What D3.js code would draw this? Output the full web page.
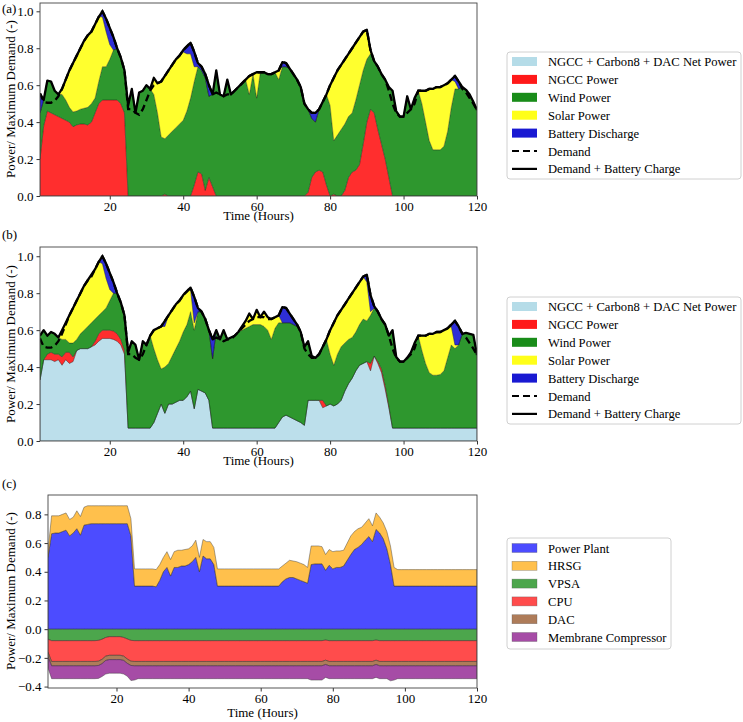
<!DOCTYPE html>
<html><head><meta charset="utf-8">
<script src="https://cdn.jsdelivr.net/npm/d3@7"></script>
<style>
body{margin:0;background:#fff}
svg{display:block}
text{font-family:"Liberation Serif","Times New Roman",serif;fill:#000}
</style>
</head><body>
<svg id="chart" width="743" height="722"></svg>
<script>
// ---------- DATA ----------
const hours = d3.range(1, 121);
const xTickValues = [20, 40, 60, 80, 100, 120];
const yTicksAB = [0, 0.2, 0.4, 0.6, 0.8, 1.0];
const yTicksC = [-0.4, -0.2, 0, 0.2, 0.4, 0.6, 0.8];

const demand = [
.555,.51,.505,.505,.515,.54,.58,.63,.68,.72,
.76,.80,.84,.87,.89,.93,.97,1.0,.96,.91,
.86,.80,.75,.68,.47,.47,.45,.44,.47,.52,
.57,.60,.61,.62,.65,.68,.71,.74,.76,.79,
.81,.83,.78,.72,.70,.66,.60,.55,.56,.55,
.54,.55,.55,.57,.59,.61,.63,.65,.66,.67,
.67,.67,.66,.66,.67,.68,.725,.72,.69,.66,
.63,.59,.50,.47,.45,.45,.47,.51,.55,.60,
.64,.68,.71,.74,.77,.80,.83,.86,.89,.90,
.79,.73,.70,.66,.63,.57,.50,.45,.43,.43,
.45,.47,.50,.57,.57,.57,.58,.58,.59,.59,
.60,.61,.63,.65,.62,.58,.56,.53,.50,.465];

// Panel (a)
const chargeA = [
.555,.52,.625,.62,.57,.55,.58,.63,.68,.72,
.76,.80,.84,.87,.89,.93,.97,1.0,.96,.91,
.86,.80,.75,.68,.49,.58,.45,.56,.57,.60,
.58,.64,.61,.62,.65,.68,.71,.74,.76,.79,
.81,.83,.78,.72,.70,.66,.60,.55,.68,.55,
.54,.63,.55,.57,.59,.61,.63,.65,.66,.67,
.67,.67,.66,.66,.67,.68,.725,.72,.69,.66,
.63,.59,.50,.47,.45,.45,.47,.51,.55,.60,
.64,.68,.71,.74,.77,.80,.83,.86,.89,.90,
.79,.73,.70,.66,.63,.59,.57,.46,.43,.43,
.54,.47,.53,.57,.57,.57,.58,.58,.59,.59,
.60,.61,.63,.65,.62,.59,.575,.55,.51,.465];
const ngccA = [
.20,.38,.46,.45,.44,.43,.42,.41,.40,.375,
.385,.39,.39,.385,.40,.45,.50,.52,.52,.52,
.52,.52,.50,.45,0,0,0,0,0,0,
0,0,0,0,.01,0,0,0,0,0,
0,0,.06,.13,.12,.03,.10,.05,0,0,
0,0,0,0,0,0,0,0,0,0,
0,0,0,0,0,0,0,0,0,0,
0,0,0,.02,.10,.13,.14,.13,.06,0,
.01,0,0,.03,.10,.13,.14,.17,.28,.40,
.47,.45,.36,.28,.20,.10,0,0,0,0,
0,0,0,0,0,0,0,0,0,0,
0,0,0,0,0,0,0,0,0,0];
const windA = [
.25,.14,.165,.17,.13,.12,.13,.11,.08,.08,
.075,.08,.085,.095,.10,.08,.12,.18,.18,.22,
.27,.28,.25,.23,.49,.58,.45,.56,.57,.60,
.58,.55,.45,.32,.30,.33,.35,.37,.39,.41,
.46,.53,.56,.57,.56,.61,.44,.50,.68,.55,
.54,.63,.55,.57,.59,.61,.63,.55,.66,.53,
.67,.67,.66,.66,.67,.63,.70,.70,.69,.66,
.63,.59,.50,.45,.32,.27,.33,.38,.49,.49,
.29,.33,.36,.36,.33,.32,.38,.43,.40,.34,
.30,.28,.34,.38,.43,.49,.57,.46,.43,.43,
.54,.47,.53,.57,.50,.40,.30,.25,.25,.25,
.27,.35,.48,.58,.58,.59,.575,.55,.51,.465];
const solarA = [
0,0,0,0,0,0,.03,.11,.20,.265,
.30,.33,.365,.39,.39,.40,.35,.27,.19,.08,
0,0,0,0,0,0,0,0,0,0,
0,.09,.16,.30,.34,.35,.36,.37,.37,.37,
.31,.24,.08,0,0,0,0,0,0,0,
0,0,0,0,0,0,0,.10,0,.14,
0,0,0,0,0,.05,0,0,0,0,
0,0,0,0,0,0,0,0,0,.11,
.34,.35,.35,.35,.34,.35,.31,.26,.21,.16,
.02,0,0,0,0,0,0,0,0,0,
0,0,0,0,.07,.17,.28,.33,.34,.34,
.33,.26,.15,.04,0,0,0,0,0,0];
const batteryA = [
.105,0,0,0,0,0,0,0,0,0,
0,0,0,0,0,0,0,.03,.07,.09,
.07,0,0,0,0,0,0,0,0,0,
0,0,0,0,0,0,0,0,0,.01,
.04,.06,.08,.02,.02,.02,.06,0,0,0,
0,0,0,0,0,0,0,0,0,0,
0,0,0,0,0,0,.025,.02,0,0,
0,0,0,0,.03,.05,0,0,0,0,
0,0,0,0,0,0,0,0,0,0,
0,0,0,0,0,0,0,0,0,0,
0,0,0,0,0,0,0,0,0,0,
0,0,0,.03,.04,0,0,0,0,0];

// Panel (b)
const chargeB = [
.57,.60,.57,.59,.58,.56,.60,.64,.68,.72,
.76,.80,.84,.87,.90,.93,.97,1.0,.96,.91,
.86,.80,.75,.68,.48,.54,.52,.44,.54,.52,
.57,.60,.61,.62,.65,.68,.71,.74,.76,.79,
.81,.83,.78,.72,.70,.66,.60,.55,.60,.55,
.60,.55,.56,.57,.59,.62,.65,.69,.66,.71,
.67,.70,.67,.66,.67,.68,.725,.72,.69,.66,
.63,.59,.51,.54,.46,.45,.47,.51,.55,.60,
.64,.68,.71,.74,.77,.80,.83,.86,.89,.90,
.79,.73,.70,.66,.63,.57,.60,.455,.43,.43,
.45,.48,.53,.57,.57,.57,.58,.58,.59,.59,
.60,.61,.63,.65,.62,.58,.585,.58,.575,.465];
const netB = [
.33,.44,.44,.44,.43,.44,.41,.44,.42,.43,
.49,.50,.50,.50,.51,.52,.54,.555,.555,.555,
.55,.54,.52,.47,.07,.07,.07,.07,.07,.07,
.07,.10,.15,.20,.15,.20,.20,.21,.22,.22,
.24,.27,.175,.28,.27,.26,.22,.07,.07,.07,
.07,.07,.07,.07,.07,.07,.07,.07,.07,.07,
.07,.07,.07,.07,.07,.10,.13,.14,.13,.12,
.11,.10,.085,.22,.22,.22,.22,.18,.19,.20,
.19,.20,.22,.27,.31,.34,.38,.41,.42,.43,
.38,.46,.42,.37,.28,.18,.07,.07,.07,.07,
.07,.07,.07,.07,.07,.07,.07,.07,.07,.07,
.07,.07,.07,.07,.07,.07,.07,.07,.07,.07];
const ngccB = [
0,0,.03,.04,.04,.03,.045,.04,.06,.025,
0,0,0,0,0,.02,.04,.045,.045,.045,
.045,.04,.03,.02,0,0,0,0,0,0,
0,0,0,0,0,0,0,0,0,0,
0,0,0,0,0,0,0,0,0,0,
0,0,0,0,0,0,0,0,0,0,
0,0,0,0,0,0,0,0,0,0,
0,0,0,0,0,0,0,.04,0,0,
0,0,0,0,0,0,0,0,0,0,
.04,0,.01,.02,.02,.01,0,0,0,0,
0,0,0,0,0,0,0,0,0,0,
0,0,0,0,0,0,0,0,0,0];
const windB = [
.24,.16,.10,.11,.11,.09,.095,.07,.05,.075,
.06,.08,.10,.12,.13,.12,.10,.10,.12,.16,
.205,.22,.20,.19,.41,.47,.45,.37,.47,.45,
.50,.40,.29,.19,.25,.22,.26,.29,.32,.37,
.39,.43,.425,.42,.43,.40,.38,.376,.53,.48,
.53,.48,.49,.50,.52,.53,.54,.55,.56,.56,
.56,.55,.53,.48,.54,.54,.51,.50,.51,.51,
.51,.49,.425,.32,.24,.23,.25,.29,.36,.27,
.22,.27,.29,.26,.24,.22,.21,.22,.24,.22,
.26,.26,.27,.27,.33,.38,.53,.385,.36,.36,
.38,.41,.46,.50,.42,.35,.30,.286,.286,.29,
.31,.38,.45,.43,.45,.51,.515,.51,.505,.395];
const solarB = [
0,0,0,0,0,0,.05,.09,.15,.19,
.21,.22,.24,.25,.26,.27,.29,.26,.16,.06,
0,0,0,0,0,0,0,0,0,0,
0,.10,.17,.23,.22,.26,.25,.24,.22,.20,
.18,.12,.04,0,0,0,0,0,0,0,
0,0,0,0,0,.02,.04,.07,.03,.08,
.04,.08,.07,.11,.06,.04,0,0,0,0,
0,0,0,0,0,0,0,0,0,.13,
.23,.21,.20,.21,.22,.24,.24,.23,.23,.21,
.02,0,0,0,0,0,0,0,0,0,
0,0,0,0,.08,.15,.21,.224,.234,.23,
.22,.16,.10,.02,0,0,0,0,0,0];
const batteryB = [
0,0,0,0,0,0,0,0,0,0,
0,0,0,0,0,0,0,.04,.08,.09,
.06,0,0,0,0,0,0,0,0,0,
0,0,0,0,.03,0,0,0,0,0,
0,.01,.14,.02,0,0,0,.104,0,0,
0,0,0,0,0,0,0,0,0,0,
0,0,0,0,0,0,.085,.08,.05,.03,
.01,0,0,0,0,0,0,0,0,0,
0,0,0,0,0,0,0,0,0,.04,
.09,.01,0,0,0,0,0,0,0,0,
0,0,0,0,0,0,0,0,0,0,
0,0,.01,.13,.10,0,0,0,0,0];

// Panel (c)
const powerPlant = [
.50,.665,.67,.67,.68,.69,.65,.67,.70,.655,
.725,.73,.735,.735,.735,.735,.735,.735,.735,.735,
.735,.735,.735,.65,.30,.30,.30,.30,.30,.30,
.295,.34,.40,.43,.37,.43,.43,.44,.44,.45,
.47,.50,.40,.51,.49,.49,.45,.30,.30,.30,
.30,.30,.30,.30,.30,.30,.30,.30,.30,.30,
.30,.30,.30,.30,.30,.33,.35,.36,.36,.35,
.34,.33,.32,.45,.455,.455,.455,.41,.445,.42,
.43,.43,.44,.48,.52,.555,.57,.59,.62,.645,
.61,.695,.67,.63,.56,.45,.30,.30,.30,.30,
.30,.30,.30,.30,.30,.30,.30,.30,.30,.30,
.30,.30,.30,.30,.30,.30,.30,.30,.30,.30];
const hrsg = [
.05,.125,.12,.12,.12,.12,.115,.11,.125,.13,
.125,.13,.125,.125,.125,.125,.125,.125,.125,.125,
.125,.125,.125,.12,.12,.12,.12,.12,.12,.12,
.12,.11,.10,.11,.115,.11,.12,.11,.115,.11,
.11,.12,.10,.115,.12,.12,.12,.12,.12,.12,
.12,.12,.12,.12,.12,.12,.12,.12,.12,.12,
.12,.12,.12,.12,.12,.11,.11,.12,.115,.12,
.12,.12,.11,.13,.125,.125,.12,.11,.11,.12,
.115,.115,.11,.12,.13,.125,.13,.12,.12,.125,
.11,.115,.11,.11,.12,.13,.13,.115,.115,.115,
.115,.115,.115,.115,.115,.115,.115,.115,.115,.115,
.115,.115,.115,.115,.115,.115,.115,.115,.115,.115];
const vpsa = [
-.07,-.08,-.08,-.08,-.08,-.08,-.08,-.08,-.08,-.08,
-.08,-.08,-.08,-.08,-.078,-.07,-.058,-.052,-.052,-.052,
-.052,-.058,-.068,-.078,-.08,-.08,-.08,-.08,-.08,-.08,
-.08,-.08,-.08,-.08,-.08,-.08,-.08,-.08,-.08,-.08,
-.08,-.08,-.08,-.08,-.08,-.08,-.08,-.08,-.08,-.08,
-.08,-.08,-.08,-.08,-.08,-.08,-.08,-.08,-.08,-.08,
-.08,-.08,-.08,-.08,-.08,-.08,-.08,-.08,-.08,-.08,
-.08,-.08,-.08,-.08,-.08,-.08,-.08,-.076,-.08,-.08,
-.08,-.08,-.08,-.08,-.08,-.08,-.08,-.08,-.08,-.08,
-.08,-.076,-.08,-.08,-.08,-.08,-.08,-.08,-.08,-.08,
-.08,-.08,-.08,-.08,-.08,-.08,-.08,-.08,-.08,-.08,
-.08,-.08,-.08,-.08,-.08,-.08,-.08,-.08,-.08,-.08];
const cpu = [
-.09,-.145,-.145,-.145,-.145,-.145,-.145,-.145,-.145,-.145,
-.145,-.145,-.145,-.145,-.145,-.14,-.13,-.13,-.13,-.13,
-.13,-.13,-.14,-.145,-.145,-.145,-.145,-.145,-.145,-.145,
-.145,-.145,-.145,-.145,-.145,-.145,-.145,-.145,-.145,-.145,
-.145,-.145,-.145,-.145,-.145,-.145,-.145,-.145,-.145,-.145,
-.145,-.145,-.145,-.145,-.145,-.145,-.145,-.145,-.145,-.145,
-.145,-.145,-.145,-.145,-.145,-.145,-.145,-.145,-.145,-.145,
-.145,-.145,-.145,-.145,-.145,-.145,-.145,-.14,-.145,-.145,
-.145,-.145,-.145,-.145,-.145,-.145,-.145,-.145,-.145,-.145,
-.145,-.14,-.145,-.145,-.145,-.145,-.145,-.145,-.145,-.145,
-.145,-.145,-.145,-.145,-.145,-.145,-.145,-.145,-.145,-.145,
-.145,-.145,-.145,-.145,-.145,-.145,-.145,-.145,-.145,-.145];
const dac = [
-.03,-.03,-.03,-.03,-.03,-.03,-.03,-.03,-.03,-.03,
-.03,-.03,-.03,-.03,-.03,-.03,-.03,-.03,-.03,-.03,
-.03,-.03,-.03,-.03,-.03,-.03,-.03,-.03,-.03,-.03,
-.03,-.03,-.03,-.03,-.03,-.03,-.03,-.03,-.03,-.03,
-.03,-.03,-.03,-.03,-.03,-.03,-.03,-.03,-.03,-.03,
-.03,-.03,-.03,-.03,-.03,-.03,-.03,-.03,-.03,-.03,
-.03,-.03,-.03,-.03,-.03,-.03,-.03,-.03,-.03,-.03,
-.03,-.03,-.03,-.03,-.03,-.03,-.03,-.03,-.03,-.03,
-.03,-.03,-.03,-.03,-.03,-.03,-.03,-.03,-.03,-.03,
-.03,-.03,-.03,-.03,-.03,-.03,-.03,-.03,-.03,-.03,
-.03,-.03,-.03,-.03,-.03,-.03,-.03,-.03,-.03,-.03,
-.03,-.03,-.03,-.03,-.03,-.03,-.03,-.03,-.03,-.03];
const membrane = [
-.08,-.09,-.09,-.09,-.09,-.09,-.09,-.09,-.09,-.09,
-.09,-.09,-.09,-.09,-.09,-.09,-.095,-.095,-.095,-.095,
-.095,-.095,-.09,-.105,-.10,-.09,-.09,-.09,-.09,-.09,
-.09,-.09,-.09,-.09,-.09,-.09,-.09,-.09,-.09,-.09,
-.09,-.09,-.09,-.09,-.09,-.09,-.09,-.09,-.09,-.09,
-.09,-.09,-.09,-.09,-.09,-.09,-.09,-.09,-.09,-.09,
-.09,-.09,-.09,-.09,-.09,-.09,-.09,-.09,-.09,-.09,
-.09,-.09,-.09,-.10,-.10,-.10,-.10,-.09,-.09,-.09,
-.09,-.09,-.09,-.09,-.09,-.09,-.09,-.09,-.09,-.09,
-.09,-.09,-.09,-.09,-.09,-.105,-.10,-.09,-.09,-.09,
-.09,-.09,-.09,-.09,-.09,-.09,-.09,-.09,-.09,-.09,
-.09,-.09,-.09,-.09,-.09,-.09,-.09,-.09,-.09,-.09];

const legendAB = ["NGCC + Carbon8 + DAC Net Power","NGCC Power","Wind Power","Solar Power","Battery Discharge","Demand","Demand + Battery Charge"];
const legendC = ["Power Plant","HRSG","VPSA","CPU","DAC","Membrane Compressor"];
const yLabel = "Power/ Maximum Demand (-)";
const xLabel = "Time (Hours)";

// ---------- STYLE ----------
const colAB = {net:"#add8e6", ngcc:"#ff0000", wind:"#008000", solar:"#ffff00", battery:"#0000cd"};
const colC = {pp:"#0000ff", hrsg:"#ffa500", vpsa:"#008000", cpu:"#ff0000", dac:"#8b4513", mc:"#800080"};
const FS = 13;
const LFS = 12.6;

const svg = d3.select("#chart");

function frameAxes(x, y, yTicks, xl, yl) {
  const [L, R] = x.range(), [B, T] = y.range();
  const g = svg.append("g");
  g.append("g").attr("transform", `translate(0,${B})`)
    .call(d3.axisBottom(x).tickValues(xTickValues).tickFormat(d3.format("d")).tickSize(3.5).tickPadding(2))
    .call(s => s.select(".domain").remove())
    .call(s => s.selectAll("text").style("font-size", FS + "px").style("font-family", '"Liberation Serif",serif'))
    .call(s => s.selectAll("line").attr("stroke", "#000").attr("stroke-width", 0.8));
  g.append("g").attr("transform", `translate(${L},0)`)
    .call(d3.axisLeft(y).tickValues(yTicks).tickFormat(d3.format(".1f")).tickSize(3.5).tickPadding(3))
    .call(s => s.select(".domain").remove())
    .call(s => s.selectAll("text").style("font-size", FS + "px").style("font-family", '"Liberation Serif",serif'))
    .call(s => s.selectAll("line").attr("stroke", "#000").attr("stroke-width", 0.8));
  g.append("rect").attr("x", L).attr("y", T).attr("width", R - L).attr("height", B - T)
    .attr("fill", "none").attr("stroke", "#444").attr("stroke-width", 0.9);
  svg.append("text").attr("x", (L + R) / 2).attr("y", xl).attr("text-anchor", "middle")
    .style("font-size", FS + "px").text(xLabel);
  svg.append("text").attr("transform", `translate(${yl[0]},${yl[1]}) rotate(-90)`).attr("text-anchor", "middle")
    .style("font-size", FS + "px").text(yLabel);
}

function stackPanel(x, y, keys, series, charge, clipId) {
  const rows = hours.map((h, i) => {
    const r = {h};
    keys.forEach(k => r[k] = series[k][i]);
    return r;
  });
  const stack = d3.stack().keys(keys)(rows);
  const [L, R] = x.range(), [B, T] = y.range();
  svg.append("clipPath").attr("id", clipId).append("rect").attr("x", L).attr("y", T).attr("width", R - L).attr("height", B - T);
  const g = svg.append("g").attr("clip-path", `url(#${clipId})`);
  const area = d3.area().x(d => x(d.data.h)).y0(d => y(d[0])).y1(d => y(d[1]));
  g.selectAll("path.layer").data(stack).join("path").attr("class", "layer")
    .attr("d", area).attr("fill", d => colAB[d.key]).attr("fill-opacity", 0.82)
    .attr("stroke", "#222").attr("stroke-opacity", 0.6).attr("stroke-width", 0.5);
  const line = d3.line().x((d, i) => x(hours[i])).y(d => y(d));
  g.append("path").attr("d", line(demand)).attr("fill", "none").attr("stroke", "#000")
    .attr("stroke-width", 2.3).attr("stroke-dasharray", "7,4");
  g.append("path").attr("d", line(charge)).attr("fill", "none").attr("stroke", "#000")
    .attr("stroke-width", 2.3).attr("stroke-linejoin", "round");
}

function legendABDraw(top) {
  const g = svg.append("g");
  g.append("rect").attr("x", 507).attr("y", top).attr("width", 234).attr("height", 127).attr("rx", 3)
    .attr("fill", "#fff").attr("stroke", "#d0d0d0");
  const cols = [colAB.net, colAB.ngcc, colAB.wind, colAB.solar, colAB.battery];
  legendAB.forEach((lab, i) => {
    const cy = top + 9.5 + i * 17.9;
    if (i < 5) {
      g.append("rect").attr("x", 512).attr("y", cy - 4.5).attr("width", 25).attr("height", 9).attr("fill", cols[i]).attr("fill-opacity", 0.9);
    } else {
      g.append("line").attr("x1", 512).attr("x2", 537).attr("y1", cy).attr("y2", cy).attr("stroke", "#000")
        .attr("stroke-width", 2.2).attr("stroke-dasharray", i === 5 ? "7,4" : null);
    }
    g.append("text").attr("x", 548).attr("y", cy + 4.5).style("font-size", LFS + "px").text(lab);
  });
}

// ---------- PANEL A ----------
const xA = d3.scaleLinear().domain([1, 120]).range([40, 477]);
const yA = d3.scaleLinear().domain([0, 1.045]).range([196, 3]);
stackPanel(xA, yA, ["ngcc", "wind", "solar", "battery"],
  {ngcc: ngccA, wind: windA, solar: solarA, battery: batteryA}, chargeA, "clipA");
frameAxes(xA, yA, yTicksAB, 220, [15, 99]);
svg.append("text").attr("x", 2).attr("y", 13).style("font-size", FS + "px").text("(a)");
legendABDraw(52);

// ---------- PANEL B ----------
const xB = d3.scaleLinear().domain([1, 120]).range([40, 477]);
const yB = d3.scaleLinear().domain([0, 1.05]).range([441, 247]);
stackPanel(xB, yB, ["net", "ngcc", "wind", "solar", "battery"],
  {net: netB, ngcc: ngccB, wind: windB, solar: solarB, battery: batteryB}, chargeB, "clipB");
frameAxes(xB, yB, yTicksAB, 465, [15, 344]);
svg.append("text").attr("x", 2).attr("y", 239).style("font-size", FS + "px").text("(b)");
legendABDraw(297);

// ---------- PANEL C ----------
const xC = d3.scaleLinear().domain([1, 120]).range([48, 477]);
const yC = d3.scaleLinear().domain([-0.41, 0.935]).range([688, 495]);
{
  const keys = ["pp", "hrsg", "vpsa", "cpu", "dac", "mc"];
  const src = {pp: powerPlant, hrsg: hrsg, vpsa: vpsa, cpu: cpu, dac: dac, mc: membrane};
  const rows = hours.map((h, i) => { const r = {h}; keys.forEach(k => r[k] = src[k][i]); return r; });
  const stack = d3.stack().keys(keys).offset(d3.stackOffsetDiverging)(rows);
  svg.append("clipPath").attr("id", "clipC").append("rect").attr("x", 48).attr("y", 495).attr("width", 429).attr("height", 193);
  const g = svg.append("g").attr("clip-path", "url(#clipC)");
  const area = d3.area().x(d => xC(d.data.h)).y0(d => yC(d[0])).y1(d => yC(d[1]));
  g.selectAll("path").data(stack).join("path").attr("d", area)
    .attr("fill", d => colC[d.key]).attr("fill-opacity", 0.7)
    .attr("stroke", "#333").attr("stroke-opacity", 0.6).attr("stroke-width", 0.7);
  frameAxes(xC, yC, yTicksC, 717, [15, 591]);
  svg.append("text").attr("x", 2).attr("y", 488).style("font-size", FS + "px").text("(c)");
  const lg = svg.append("g");
  lg.append("rect").attr("x", 507).attr("y", 538).attr("width", 164).attr("height", 111).attr("rx", 3)
    .attr("fill", "#fff").attr("stroke", "#d0d0d0");
  legendC.forEach((lab, i) => {
    const cy = 548 + i * 17.8;
    lg.append("rect").attr("x", 512).attr("y", cy - 4.5).attr("width", 25).attr("height", 9)
      .attr("fill", colC[keys[i]]).attr("fill-opacity", 0.7).attr("stroke", "#555").attr("stroke-opacity", 0.5).attr("stroke-width", 0.6);
    lg.append("text").attr("x", 548).attr("y", cy + 4.5).style("font-size", LFS + "px").text(lab);
  });
}
</script>
</body></html>
